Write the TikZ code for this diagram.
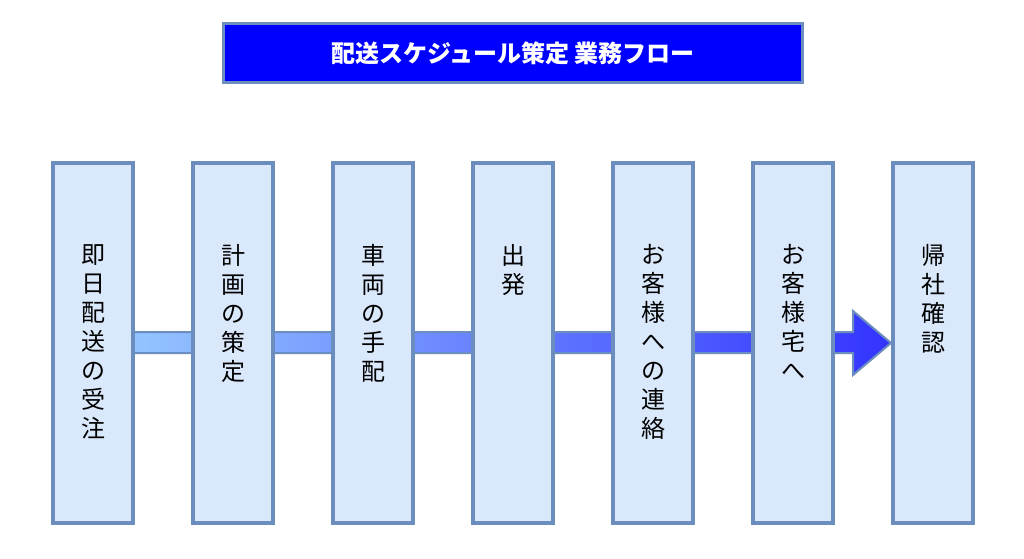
\documentclass[tikz,border=0pt]{standalone}
\usepackage{fontspec}
\setmainfont{Noto Sans CJK JP}
\begin{document}
\begin{tikzpicture}[x=0.75pt,y=-0.75pt,
  stepbox/.style={draw=boxline,fill=boxfill,line width=3pt,minimum width=60pt,minimum height=270pt,inner sep=0pt},
  steptext/.style={anchor=north,align=center,inner sep=0pt,font=\fontsize{18}{21.8}\selectfont,text=black},
  titlebox/.style={draw=boxline,fill=titleblue,line width=2.25pt,minimum width=434.25pt,minimum height=44.25pt,inner sep=0pt,text=white,font=\fontsize{18}{20}\selectfont\bfseries}]
\definecolor{boxline}{HTML}{6C8EBF}
\definecolor{boxfill}{HTML}{DAE8FC}
\definecolor{titleblue}{HTML}{0000FF}
\definecolor{arrowlight}{HTML}{99CCFF}
\definecolor{arrowdark}{HTML}{3333FF}
\useasboundingbox (0,0) rectangle (1024,558);
\fill[white] (0,0) rectangle (1024,558);

\node[titlebox] (title) at (513,53) {配送スケジュール策定 業務フロー};

% arrow band
\path[draw=boxline,line width=1.5pt,line join=miter,left color=arrowlight,right color=arrowdark]
  (93,332) -- (853,332) -- (853,311) -- (891,343) -- (853,375) -- (853,353) -- (93,353) -- cycle;

\foreach \i/\t in {1/{即\\日\\配\\送\\の\\受\\注},2/{計\\画\\の\\策\\定},3/{車\\両\\の\\手\\配},4/{出\\発},5/{お\\客\\様\\へ\\の\\連\\絡},6/{お\\客\\様\\宅\\へ},7/{帰\\社\\確\\認}}{
  \pgfmathsetmacro{\cx}{93+140*(\i-1)}
  \node[stepbox] (s\i) at (\cx,343) {};
  \node[steptext] (t\i) at (\cx,244) {\t};
}
\end{tikzpicture}
\end{document}
